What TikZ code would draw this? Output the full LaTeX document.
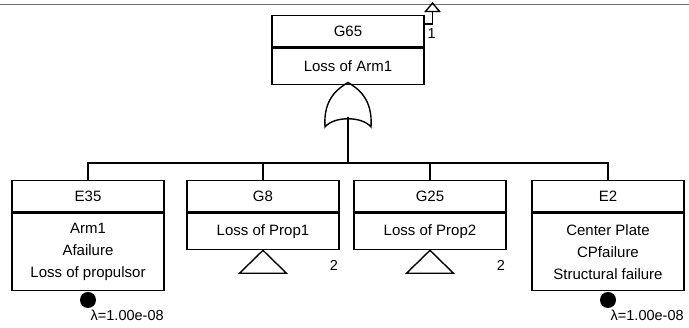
\documentclass[tikz,border=0pt]{standalone}
\usepackage{fontspec}
\setmainfont{Liberation Sans}
\usetikzlibrary{calc}
\begin{document}
\begin{tikzpicture}[x=1pt,y=-1pt,line width=1.4pt,
  txt/.style={font=\fontsize{15}{22}\selectfont},
  head/.style={draw,txt,minimum width=152pt,minimum height=31.5pt,inner sep=0pt,anchor=north},
  body/.style={draw,txt,minimum width=152pt,inner sep=0pt,anchor=north,align=center},
  basic/.style={fill=black,circle,inner sep=0pt,minimum size=16pt},
  lbl/.style={font=\fontsize{14.5}{16}\selectfont,inner sep=0pt}]
\useasboundingbox (0,0) rectangle (689,328);
% frame line at the top
\draw[black!55,line width=1pt] (0,5) -- (689,5);

% top event
\node[head] (g65h) at (348,15) {G65};
\node[body,minimum height=36pt] (g65b) at (g65h.south) {Loss of Arm1};

% transfer-out symbol
\coordinate (tr) at (432.5,11.5);
\draw (tr) -- ++(-7,0) -- ++(7,-8.5) -- ++(7,8.5) -- cycle;
\draw ($(g65h.north east)+(0,9)$) -| (tr);
\node[lbl,anchor=west] (n1) at (427,34) {1};

% OR gate
\coordinate (ortop) at (348,82.5);
\coordinate (orbot) at (348,117);
\draw (325,127) .. controls (323,98) and (339,88) .. (ortop)
      .. controls (357,88) and (373,98) .. (371,127)
      .. controls (362,116) and (334,116) .. (325,127) -- cycle;
\coordinate (bus) at (348,163);
\draw (orbot) -- (bus);

% children
\node[head] (e35h) at (88,180) {E35};
\node[body,minimum height=77pt] (e35b) at (e35h.south) {Arm1\\Afailure\\Loss of propulsor};
\node[head] (g8h) at (263,180) {G8};
\node[body,minimum height=36pt] (g8b) at (g8h.south) {Loss of Prop1};
\node[head] (g25h) at (430,180) {G25};
\node[body,minimum height=36pt] (g25b) at (g25h.south) {Loss of Prop2};
\node[head] (e2h) at (608,180) {E2};
\node[body,minimum height=77pt] (e2b) at (e2h.south) {Center Plate\\CPfailure\\Structural failure};

% bus and drops
\draw (e35h.north) |- (bus) -| (e2h.north);
\draw (g8h.north) -- (g8h.north |- bus);
\draw (g25h.north) -- (g25h.north |- bus);

% basic event markers
\node[basic,anchor=north] (c35) at (e35b.south) {};
\node[lbl,anchor=west] (l35) at (90,315) {λ=1.00e-08};
\node[basic,anchor=north] (c2) at (e2b.south) {};
\node[lbl,anchor=west] (l2) at (610,315) {λ=1.00e-08};

% transfer-in triangles
\draw (g8b.south) -- ++(23.5,23) -- ++(-47,0) -- cycle;
\node[lbl] (t8) at (334,265) {2};
\draw (g25b.south) -- ++(23.5,23) -- ++(-47,0) -- cycle;
\node[lbl] (t25) at (501,265) {2};
\end{tikzpicture}
\end{document}
